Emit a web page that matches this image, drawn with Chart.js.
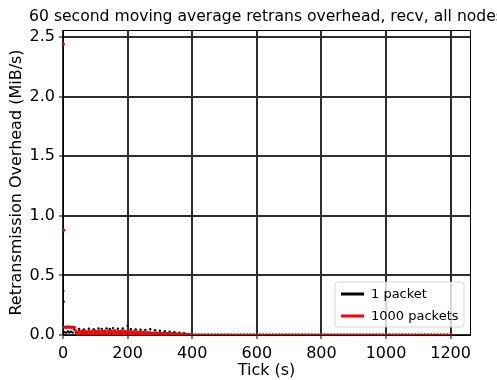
<!DOCTYPE html>
<html>
<head>
<meta charset="utf-8">
<script src="https://cdn.jsdelivr.net/npm/chart.js@4.4.1/dist/chart.umd.min.js"></script>
<style>
  html, body { margin: 0; padding: 0; background: #fff; }
  canvas { display: block; }
</style>
</head>
<body>
<canvas id="chart" width="497" height="380"></canvas>
<script>
// Labels
const chartTitle = '60 second moving average retrans overhead, recv, all nodes';
const xAxisLabel = 'Tick (s)';
const yAxisLabel = 'Retransmission Overhead (MiB/s)';
const seriesNames = ['1 packet', '1000 packets'];
const seriesColors = ['#000000', '#ff0000'];

// Sample times (s)
const tickSeconds = [
  1, 2,
  5, 10, 15, 20, 25, 30, 35, 40, 45, 50, 55, 60, 65, 70, 75, 80, 85, 90, 95, 100,
  105, 110, 115, 120, 125, 130, 135, 140, 145, 150, 155, 160, 165, 170, 175, 180, 185, 190, 195, 200,
  205, 210, 215, 220, 225, 230, 235, 240, 245, 250, 255, 260, 265, 270, 275, 280, 285, 290, 295, 300,
  305, 310, 315, 320, 325, 330, 335, 340, 345, 350, 355, 360, 365, 370, 375, 380, 385, 390, 395, 400,
  410, 420, 430, 440, 450, 460, 470, 480, 490, 500, 510, 520, 530, 540, 550, 560, 570, 580, 590, 600,
  610, 620, 630, 640, 650, 660, 670, 680, 690, 700, 710, 720, 730, 740, 750, 760, 770, 780, 790, 800,
  810, 820, 830, 840, 850, 860, 870, 880, 890, 900, 910, 920, 930, 940, 950, 960, 970, 980, 990, 1000,
  1010, 1020, 1030, 1040, 1050, 1060, 1070, 1080, 1090, 1100, 1110, 1120, 1130, 1140, 1150, 1160, 1170, 1180, 1190, 1200
];

// Overhead, 1 packet (MiB/s)
const onePacket = [
  0.37, 0.28,
  0.024, 0.018, 0.030, 0.022, 0.028, 0.020, 0.046, 0.020, 0.018, 0.050, 0.022, 0.025, 0.047, 0.020, 0.022, 0.053, 0.019, 0.028, 0.049, 0.021,
  0.024, 0.055, 0.020, 0.051, 0.027, 0.022, 0.056, 0.023, 0.050, 0.021, 0.058, 0.026, 0.022, 0.052, 0.024, 0.020, 0.054, 0.028, 0.021, 0.078,
  0.022, 0.048, 0.020, 0.018, 0.046, 0.021, 0.016, 0.044, 0.019, 0.017, 0.043, 0.015, 0.018, 0.048, 0.016, 0.014, 0.040, 0.015, 0.013, 0.036,
  0.012, 0.014, 0.032, 0.011, 0.012, 0.028, 0.010, 0.010, 0.024, 0.009, 0.008, 0.020, 0.007, 0.006, 0.016, 0.005, 0.004, 0.006, 0.003, 0.0,
  0, 0, 0, 0, 0, 0, 0, 0, 0, 0, 0, 0, 0, 0, 0, 0, 0, 0, 0, 0,
  0, 0, 0, 0, 0, 0, 0, 0, 0, 0, 0, 0, 0, 0, 0, 0, 0, 0, 0, 0,
  0, 0, 0, 0, 0, 0, 0, 0, 0, 0, 0, 0, 0, 0, 0, 0, 0, 0, 0, 0,
  0, 0, 0, 0, 0, 0, 0, 0, 0, 0, 0, 0, 0, 0, 0, 0, 0, 0, 0, 0
];

// Overhead, 1000 packets (MiB/s)
const thousandPackets = [
  2.44, 0.88,
  0.066, 0.065, 0.067, 0.066, 0.065, 0.066, 0.064, 0.034, 0.012, 0.031, 0.008, 0.033, 0.015, 0.030, 0.010, 0.034, 0.013, 0.032, 0.009, 0.035,
  0.014, 0.031, 0.011, 0.036, 0.012, 0.033, 0.009, 0.035, 0.015, 0.034, 0.010, 0.036, 0.013, 0.032, 0.011, 0.035, 0.012, 0.031, 0.010, 0.030,
  0.012, 0.029, 0.009, 0.027, 0.011, 0.026, 0.008, 0.025, 0.010, 0.023, 0.007, 0.022, 0.009, 0.020, 0.006, 0.018, 0.008, 0.017, 0.005, 0.015,
  0.006, 0.014, 0.005, 0.013, 0.004, 0.012, 0.004, 0.010, 0.003, 0.009, 0.003, 0.008, 0.002, 0.006, 0.002, 0.005, 0.001, 0.003, 0.001, 0.0,
  0, 0, 0, 0, 0, 0, 0, 0, 0, 0, 0, 0, 0, 0, 0, 0, 0, 0, 0, 0,
  0, 0, 0, 0, 0, 0, 0, 0, 0, 0, 0, 0, 0, 0, 0, 0, 0, 0, 0, 0,
  0, 0, 0, 0, 0, 0, 0, 0, 0, 0, 0, 0, 0, 0, 0, 0, 0, 0, 0, 0,
  0, 0, 0, 0, 0, 0, 0, 0, 0, 0, 0, 0, 0, 0, 0, 0, 0, 0, 0, 0
];

// Axis ticks
const xTickValues = [0, 200, 400, 600, 800, 1000, 1200];
const yTickValues = [0.0, 0.5, 1.0, 1.5, 2.0, 2.5];

const FONT = '"DejaVu Sans", "Liberation Sans", sans-serif';
Chart.defaults.font.family = FONT;
Chart.defaults.font.size = 16;
Chart.defaults.color = '#000';

const toPoints = values => tickSeconds.map((t, i) => ({ x: t, y: values[i] }));

// Title, closed frame and an in-plot legend box
const frameAndText = {
  id: 'frameAndText',
  afterDraw(chart) {
    const { ctx, chartArea: a } = chart;
    ctx.save();

    ctx.strokeStyle = '#000';
    ctx.lineWidth = 1;
    ctx.beginPath();
    ctx.moveTo(a.left, a.top + 0.5);
    ctx.lineTo(a.right + 0.5, a.top + 0.5);
    ctx.lineTo(a.right + 0.5, a.bottom);
    ctx.stroke();

    ctx.fillStyle = '#000';
    ctx.font = '15.6px ' + FONT;
    ctx.textAlign = 'center';
    ctx.textBaseline = 'middle';
    ctx.fillText(chartTitle, (a.left + a.right) / 2, 17);

    // legend
    const bx = 335, by = 282, bw = 129, bh = 45, r = 3;
    ctx.beginPath();
    ctx.moveTo(bx + r, by);
    ctx.arcTo(bx + bw, by, bx + bw, by + bh, r);
    ctx.arcTo(bx + bw, by + bh, bx, by + bh, r);
    ctx.arcTo(bx, by + bh, bx, by, r);
    ctx.arcTo(bx, by, bx + bw, by, r);
    ctx.closePath();
    ctx.fillStyle = 'rgba(255,255,255,0.8)';
    ctx.fill();
    ctx.strokeStyle = 'rgba(204,204,204,0.8)';
    ctx.lineWidth = 1;
    ctx.stroke();

    ctx.font = '13px ' + FONT;
    ctx.textAlign = 'left';
    ctx.textBaseline = 'middle';
    chart.data.datasets.forEach((ds, i) => {
      const y = by + 12 + i * 22;
      ctx.strokeStyle = ds.backgroundColor;
      ctx.lineWidth = 3;
      ctx.beginPath();
      ctx.moveTo(341, y);
      ctx.lineTo(364, y);
      ctx.stroke();
      ctx.fillStyle = '#000';
      ctx.fillText(ds.label, 371, y + 1);
    });
    ctx.restore();
  }
};

const gridStyle = { color: '#2e2e2e', lineWidth: 2, tickColor: '#000', tickLength: 4, tickWidth: 1 };

new Chart(document.getElementById('chart'), {
  type: 'scatter',
  data: {
    datasets: [
      {
        label: seriesNames[0],
        data: toPoints(onePacket),
        backgroundColor: seriesColors[0],
        borderWidth: 0,
        pointRadius: 1.2,
        order: 1
      },
      {
        label: seriesNames[1],
        data: toPoints(thousandPackets),
        backgroundColor: seriesColors[1],
        borderWidth: 0,
        pointRadius: 1.7,
        order: 0
      }
    ]
  },
  options: {
    responsive: false,
    animation: false,
    devicePixelRatio: 1,
    layout: { padding: { top: 30, right: 27, left: 0, bottom: 0 } },
    plugins: {
      legend: { display: false },
      title: { display: false },
      tooltip: { enabled: false }
    },
    scales: {
      x: {
        type: 'linear',
        min: 0,
        max: 1260,
        afterBuildTicks: s => { s.ticks = xTickValues.map(v => ({ value: v })); },
        afterFit: s => { s.height = 45; },
        ticks: { padding: 5, maxRotation: 0, font: { size: 16 }, callback: v => String(v) },
        grid: gridStyle,
        border: { color: '#000', width: 1 },
        title: { display: true, text: xAxisLabel, font: { size: 16, lineHeight: 1.2 }, padding: { top: 0, bottom: 0 } }
      },
      y: {
        type: 'linear',
        min: 0,
        max: 2.56,
        afterBuildTicks: s => { s.ticks = yTickValues.map(v => ({ value: v })); },
        afterFit: s => { s.width = 63; },
        ticks: { padding: 4, font: { size: 16 }, callback: v => v.toFixed(1) },
        grid: gridStyle,
        border: { color: '#000', width: 1 },
        title: { display: true, text: yAxisLabel, font: { size: 16, lineHeight: 1.2 }, padding: { top: 7, bottom: 0 } }
      }
    }
  },
  plugins: [frameAndText]
});
</script>
</body>
</html>
